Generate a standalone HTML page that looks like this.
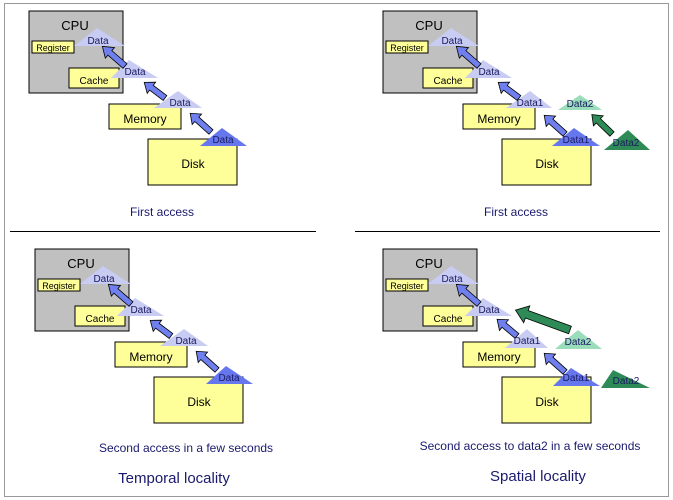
<!DOCTYPE html>
<html><head><style>
html,body{margin:0;padding:0;background:#fff;}
svg{display:block;font-family:"Liberation Sans",Arial,sans-serif;}
</style></head><body>
<svg width="673" height="500" viewBox="0 0 673 500">
<defs>
<g id="panel">
  <rect x="29" y="11" width="94" height="82" fill="#c0c0c0" stroke="#000" stroke-width="1"/>
  <text x="75" y="30" font-size="13" text-anchor="middle">CPU</text>
  <rect x="32" y="41" width="42" height="12" fill="#ffff99" stroke="#000"/>
  <text x="53" y="51" font-size="9" text-anchor="middle">Register</text>
  <rect x="69" y="68" width="50" height="20" fill="#ffff99" stroke="#000"/>
  <text x="94" y="84" font-size="10" text-anchor="middle">Cache</text>
  <rect x="109" y="104" width="72" height="25" fill="#ffff99" stroke="#000"/>
  <text x="145" y="123" font-size="12" text-anchor="middle">Memory</text>
  <rect x="148" y="139" width="89" height="46" fill="#ffff99" stroke="#000"/>
  <text x="193" y="168" font-size="12" text-anchor="middle">Disk</text>
  <polygon points="97,28 74,46 125,46" fill="#c8ccf2"/>
  <text x="98" y="44" font-size="10" text-anchor="middle" fill="#1a1a60">Data</text>
  <polygon points="129,60 111,78 158,78" fill="#c8ccf2"/>
  <text x="135" y="75" font-size="10" text-anchor="middle" fill="#1a1a60">Data</text>
</g>
</defs>

<rect x="4.5" y="3.5" width="664" height="493" fill="#fff" stroke="#999"/>
<line x1="10" y1="231.5" x2="316" y2="231.5" stroke="#000"/>
<line x1="355" y1="231.5" x2="660" y2="231.5" stroke="#000"/>

<!-- Top-left -->
<use href="#panel"/>
<polygon points="178,91 154,108 202,108" fill="#c8ccf2"/>
<text x="180" y="106" font-size="10" text-anchor="middle" fill="#1a1a60">Data</text>
<polygon points="222,128 200,146 247,146" fill="#6677ee"/>
<text x="223" y="143" font-size="10" text-anchor="middle" fill="#1a1a60">Data</text>
<g fill="#6f80ee" stroke="#000" stroke-width="0.8">
<polygon transform="translate(125,66) rotate(221)" points="0,-3 20,-3 20,-7 30,0 20,7 20,3 0,3"/>
<polygon transform="translate(165,98) rotate(217)" points="0,-3 17,-3 17,-7 26,0 17,7 17,3 0,3"/>
<polygon transform="translate(211,132) rotate(222)" points="0,-3 19,-3 19,-7 28,0 19,7 19,3 0,3"/>
</g>
<text x="162" y="216" font-size="12" text-anchor="middle" fill="#1a1a6e">First access</text>

<!-- Top-right -->
<g transform="translate(354,0)"><use href="#panel"/></g>
<polygon points="530,91 506,108 552,108" fill="#c8ccf2"/>
<text x="530" y="106" font-size="10" text-anchor="middle" fill="#1a1a60">Data1</text>
<polygon points="580,95 558,110 602,110" fill="#99ddbb"/>
<text x="580" y="107" font-size="10" text-anchor="middle" fill="#1a1a60">Data2</text>
<polygon points="574,128 552,146 600,146" fill="#6677ee"/>
<text x="576" y="143" font-size="10" text-anchor="middle" fill="#1a1a60">Data1</text>
<polygon points="628,130 604,150 650,150" fill="#2e8b57"/>
<text x="626" y="146" font-size="10" text-anchor="middle" fill="#1a1a60">Data2</text>
<g fill="#6f80ee" stroke="#000" stroke-width="0.8">
<polygon transform="translate(479,66) rotate(221)" points="0,-3 20,-3 20,-7 30,0 20,7 20,3 0,3"/>
<polygon transform="translate(519,98) rotate(217)" points="0,-3 17,-3 17,-7 26,0 17,7 17,3 0,3"/>
<polygon transform="translate(565,134) rotate(222)" points="0,-3 19,-3 19,-7 28,0 19,7 19,3 0,3"/>
</g>
<polygon transform="translate(612,134) rotate(224)" points="0,-3 19,-3 19,-7 28,0 19,7 19,3 0,3" fill="#2e8b57" stroke="#000" stroke-width="0.8"/>
<text x="516" y="216" font-size="12" text-anchor="middle" fill="#1a1a6e">First access</text>

<!-- Bottom-left -->
<g transform="translate(6,238)"><use href="#panel"/></g>
<polygon points="184,329 160,346 208,346" fill="#c8ccf2"/>
<text x="186" y="344" font-size="10" text-anchor="middle" fill="#1a1a60">Data</text>
<polygon points="226,366 206,384 253,384" fill="#6677ee"/>
<text x="229" y="381" font-size="10" text-anchor="middle" fill="#1a1a60">Data</text>
<g fill="#6f80ee" stroke="#000" stroke-width="0.8">
<polygon transform="translate(131,304) rotate(221)" points="0,-3 20,-3 20,-7 30,0 20,7 20,3 0,3"/>
<polygon transform="translate(171,336) rotate(217)" points="0,-3 17,-3 17,-7 26,0 17,7 17,3 0,3"/>
<polygon transform="translate(217,370) rotate(222)" points="0,-3 19,-3 19,-7 28,0 19,7 19,3 0,3"/>
</g>
<text x="186" y="452" font-size="12" text-anchor="middle" fill="#1a1a6e">Second access in a few seconds</text>
<text x="174" y="483" font-size="15" text-anchor="middle" fill="#1a1a6e">Temporal locality</text>

<!-- Bottom-right -->
<g transform="translate(354,238)"><use href="#panel"/></g>
<polygon points="527,329 505,348 548,348" fill="#c8ccf2"/>
<text x="527" y="344" font-size="10" text-anchor="middle" fill="#1a1a60">Data1</text>
<polygon points="578,330 555,349 602,349" fill="#99ddbb"/>
<text x="578" y="345" font-size="10" text-anchor="middle" fill="#1a1a60">Data2</text>
<polygon points="571,368 553,386 600,386" fill="#6677ee"/>
<text x="576" y="381" font-size="10" text-anchor="middle" fill="#1a1a60">Data1</text>
<polygon points="613,370 601,388 650,388" fill="#2e8b57"/>
<text x="626" y="384" font-size="10" text-anchor="middle" fill="#1a1a60">Data2</text>
<g fill="#6f80ee" stroke="#000" stroke-width="0.8">
<polygon transform="translate(479,304) rotate(221)" points="0,-3 20,-3 20,-7 30,0 20,7 20,3 0,3"/>
<polygon transform="translate(517,336) rotate(220)" points="0,-3 17,-3 17,-7 26,0 17,7 17,3 0,3"/>
<polygon transform="translate(565,372) rotate(222)" points="0,-3 19,-3 19,-7 28,0 19,7 19,3 0,3"/>
</g>
<polygon transform="translate(570,330) rotate(200)" points="0,-4 46,-4 46,-9 58,0 46,9 46,4 0,4" fill="#2e8b57" stroke="#000" stroke-width="0.8"/>
<text x="530" y="450" font-size="12" text-anchor="middle" fill="#1a1a6e">Second access to data2 in a few seconds</text>
<text x="538" y="481" font-size="15" text-anchor="middle" fill="#1a1a6e">Spatial locality</text>
</svg>
</body></html>
